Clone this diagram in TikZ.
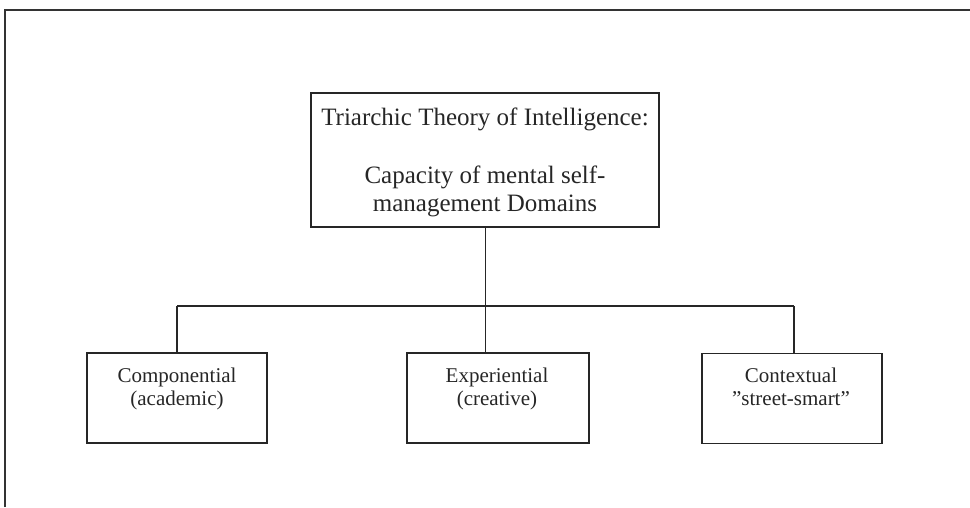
\documentclass[tikz,border=0pt]{standalone}
\usepackage{fontspec}
\setmainfont{Liberation Serif}
\begin{document}
\begin{tikzpicture}[x=1pt,y=-1pt,
  box/.style={draw=black!85, line width=1.4pt, inner sep=0pt, minimum height=90pt},
  conn/.style={draw=black!85, line width=1.2pt},
  bigtxt/.style={text=black!85, inner sep=0pt, anchor=base, font=\fontsize{25}{29}\selectfont},
  smalltxt/.style={text=black!85, inner sep=0pt, anchor=base, font=\fontsize{21}{24}\selectfont}]
\useasboundingbox (0,0) rectangle (970,507);
\draw[line width=2pt, black!80] (5,507) -- (5,10) -- (970,10);

% top box
\node[box, minimum width=348pt, minimum height=134pt] (top) at (485,160) {};
\node[bigtxt] (t1) at (485,125) {Triarchic Theory of Intelligence:};
\node[bigtxt] (t2) at (485,183) {Capacity of mental self-};
\node[bigtxt] (t3) at (485,211) {management Domains};

% bottom boxes
\node[box, minimum width=180pt] (left) at (177,398) {};
\node[smalltxt] (l1) at (177,382) {Componential};
\node[smalltxt] (l2) at (177,405) {(academic)};

\node[box, minimum width=182pt] (mid) at (498,398) {};
\node[smalltxt] (m1) at (497,382) {Experiential};
\node[smalltxt] (m2) at (497,405) {(creative)};

\node[box, minimum width=180pt] (right) at (792,398.5) {};
\node[smalltxt] (r1) at (791,382) {Contextual};
\node[smalltxt] (r2) at (791,405) {"street-smart"};

% connectors
\coordinate (j) at (485.5,306);
\coordinate (jl) at (177,306);
\coordinate (jr) at (794,306);
\draw[conn] (top.south -| j) -- (j);
\draw[conn] (jl) -- (jr);
\draw[conn] (jl) -- (jl |- left.north);
\draw[conn] (j) -- (j |- mid.north);
\draw[conn] (jr) -- (jr |- right.north);
\end{tikzpicture}
\end{document}
